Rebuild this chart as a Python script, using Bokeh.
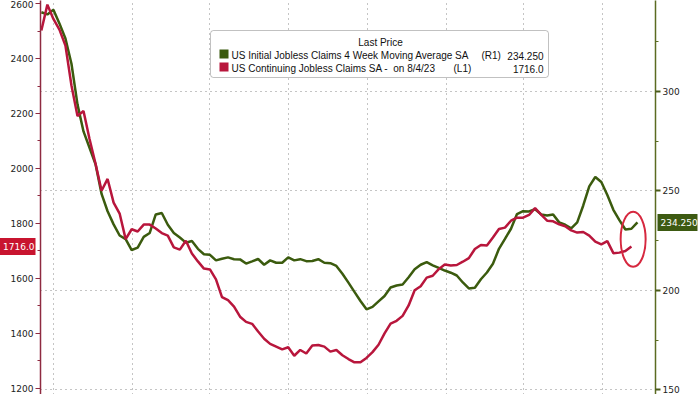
import pandas as pd
from bokeh.plotting import figure
from bokeh.models import Range1d, LinearAxis, FixedTicker, Grid, Label, BoxAnnotation
from bokeh.embed import file_html
from bokeh.resources import INLINE

# ---------------- data ----------------
first_week = "2021-09-17"

initial_claims_4wk_ma = [
    339.8, 338.7, 341.0, 334.2, 326.6, 313.9, 293.5, 279.9, 271.7, 263.4,
    248.5, 239.8, 233.2, 227.6, 225.8, 220.3, 221.5, 226.9, 228.9, 238.2,
    238.9, 233.0, 228.9, 226.6, 224.0, 224.8, 220.9, 218.2, 217.9, 215.1,
    215.9, 216.6, 215.7, 215.6, 213.5, 214.6, 215.8, 212.9, 215.1, 213.9,
    213.9, 216.6, 215.1, 215.7, 214.7, 214.8, 215.7, 213.9, 213.7, 212.3,
    208.4, 203.9, 199.3, 194.7, 190.5, 191.7, 194.5, 197.2, 201.5, 202.5,
    203.0, 206.6, 210.6, 212.9, 214.2, 212.6, 211.3, 210.0, 208.9, 207.5,
    204.0, 201.0, 201.3, 205.6, 209.0, 213.4, 220.9, 225.9, 231.0, 238.4,
    239.8, 239.7, 240.8, 238.2, 237.7, 238.2, 234.2, 233.0, 231.2, 234.2,
    242.7, 252.3, 257.0, 254.5, 248.0, 240.5, 235.3, 230.6, 231.0, 234.25,
]

continuing_claims = [
    2502, 2596, 2544, 2505, 2447, 2302, 2191, 2209, 2107, 2017,
    1919, 1962, 1876, 1836, 1743, 1779, 1771, 1796, 1796, 1782,
    1765, 1756, 1713, 1705, 1737, 1691, 1662, 1636, 1633, 1597,
    1532, 1521, 1498, 1461, 1442, 1435, 1407, 1381, 1362, 1352,
    1342, 1350, 1319, 1340, 1327, 1356, 1358, 1352, 1334, 1340,
    1321, 1307, 1295, 1295, 1311, 1332, 1359, 1400, 1436, 1446,
    1464, 1502, 1557, 1572, 1603, 1610, 1634, 1651, 1647, 1649,
    1661, 1674, 1707, 1722, 1720, 1749, 1780, 1785, 1810, 1821,
    1821, 1831, 1856, 1832, 1810, 1808, 1797, 1790, 1775, 1767,
    1769, 1756, 1734, 1724, 1736, 1692, 1694, 1700, 1716,
]

left_ticks = [1200, 1400, 1600, 1800, 2000, 2200, 2400, 2600]
left_minor = [1300, 1500, 1700, 1900, 2100, 2300, 2500]
right_ticks = [150, 200, 250, 300]
right_minor = [175, 225, 275, 325]
quarter_starts = ["2021-10-01", "2022-01-01", "2022-04-01", "2022-07-01",
                  "2022-10-01", "2023-01-01", "2023-04-01", "2023-07-01"]

legend_title = "Last Price"
green_name = "US Initial Jobless Claims 4 Week Moving Average SA"
red_name = "US Continuing Jobless Claims SA -\u00a0 on 8/4/23"
green_tag, red_tag = "(R1)", "(L1)"
green_last = "234.250"
red_last = "1716.0"

# ---------------- styling ----------------
GREEN = "#3b5b0e"
RED = "#b8163c"
FONT = "Liberation Sans"
AXFONT = "DejaVu Sans"

dates_green = pd.date_range(first_week, periods=len(initial_claims_4wk_ma), freq="7D")
dates_red = dates_green[:len(continuing_claims)]

W, H = 700, 394
ML, MR = 38, 44

x0, x1 = pd.Timestamp("2021-09-16"), pd.Timestamp("2023-09-01")
p = figure(width=W, height=H, x_axis_type="datetime", output_backend="svg",
           toolbar_location=None,
           x_range=Range1d(x0, x1),
           y_range=Range1d(1178, 2611),
           min_border_left=ML, min_border_right=MR, min_border_top=0, min_border_bottom=0)
p.extra_y_ranges = {"right": Range1d(147.7, 345.7)}
p.outline_line_color = None
p.background_fill_color = "white"
p.border_fill_color = "white"
p.xaxis.visible = False

# grids
p.ygrid.visible = False
p.xgrid.ticker = FixedTicker(ticks=[pd.Timestamp(d).value / 1e6 for d in quarter_starts])
p.xgrid.grid_line_color = "#8a8a8a"
p.xgrid.grid_line_dash = "1 4"
p.xgrid.grid_line_width = 1
hgrid = Grid(dimension=1, ticker=FixedTicker(ticks=right_ticks), y_range_name="right",
             grid_line_color="#8a8a8a", grid_line_dash="1 4", grid_line_width=1)
p.add_layout(hgrid)


def style_axis(ax, line_color, tick_color):
    ax.axis_line_color = line_color
    ax.axis_line_width = 1.5
    ax.major_tick_line_color = tick_color
    ax.minor_tick_line_color = line_color
    ax.major_tick_out = 5
    ax.major_tick_in = 0
    ax.minor_tick_out = 3
    ax.minor_tick_in = 0
    ax.major_label_standoff = 2
    ax.major_label_text_font = AXFONT
    ax.major_label_text_font_size = "9px"
    ax.major_label_text_color = "#222222"


# left axis
la = p.yaxis[0]
la.ticker = FixedTicker(ticks=left_ticks, minor_ticks=left_minor)
style_axis(la, "#8e2a40", "#8e2a40")

# right axis
ra = LinearAxis(y_range_name="right", ticker=FixedTicker(ticks=right_ticks, minor_ticks=right_minor))
style_axis(ra, "#5b6b22", "#4b5b1a")
ra.major_tick_line_width = 2
p.add_layout(ra, "right")


# last-value badges: an outer one-tick axis whose tick is drawn as a thick coloured bar
def badge_axis(value, text, color, range_name, side, t_out, t_in, standoff):
    kw = {"y_range_name": range_name} if range_name else {}
    ax = LinearAxis(ticker=FixedTicker(ticks=[value], minor_ticks=[]), **kw)
    ax.major_label_overrides = {value: text}
    ax.axis_line_color = None
    ax.minor_tick_line_color = None
    ax.major_tick_line_color = color
    ax.major_tick_line_width = 17
    ax.major_tick_out = t_out
    ax.major_tick_in = t_in
    ax.major_label_standoff = standoff
    ax.major_label_text_font = AXFONT
    ax.major_label_text_font_size = "9px"
    ax.major_label_text_color = "white"
    p.add_layout(ax, side)


badge_axis(continuing_claims[-1], red_last, "#c8142f", None, "left", 8, 28, -35)
badge_axis(initial_claims_4wk_ma[-1], green_last, "#3d5a12", "right", "right", 15, 25, -37)

# series
p.line(dates_green, initial_claims_4wk_ma, y_range_name="right",
       line_color=GREEN, line_width=2.5)
p.line(dates_red, continuing_claims, line_color=RED, line_width=2.5)

# red highlight ellipse around the latest readings
lo, hi = p.y_range.start, p.y_range.end
rlo, rhi = p.extra_y_ranges["right"].start, p.extra_y_ranges["right"].end
red_on_right = rlo + (continuing_claims[-1] - lo) / (hi - lo) * (rhi - rlo)
cy = red_on_right + 0.3 * (initial_claims_4wk_ma[-1] - red_on_right)
p.ellipse(x=[dates_green[-1] - pd.Timedelta(days=5)], y=[cy], width=25, height=55,
          width_units="screen", height_units="screen", y_range_name="right",
          fill_color=None, line_color="#d6283f", line_width=2)


def sbox(l, r, t, b, fill, line=None):
    p.add_layout(BoxAnnotation(left=l, right=r, top=t, bottom=b,
                               left_units="screen", right_units="screen",
                               top_units="screen", bottom_units="screen",
                               fill_color=fill, fill_alpha=1, line_color=line,
                               line_width=1, border_radius=3 if line else 0))


def txt(x, y, s, align="left", color="#111111"):
    p.add_layout(Label(x=x, y=y, x_units="screen", y_units="screen", text=s,
                       text_font=FONT, text_font_size="10px", text_color=color,
                       text_align=align, text_baseline="middle"))


# legend box
sbox(170, 508, 364, 317, "white", "#333333")
sbox(179, 188, 345, 336, GREEN)
sbox(179, 188, 332, 323, RED)
txt(340, 352, legend_title, align="center")
txt(191, 339, green_name)
txt(441, 339, green_tag)
txt(503, 339, green_last, align="right")
txt(191, 326, red_name)
txt(413, 326, red_tag)
txt(503, 326, red_last, align="right")

open("out.html", "w").write(file_html(p, INLINE))
